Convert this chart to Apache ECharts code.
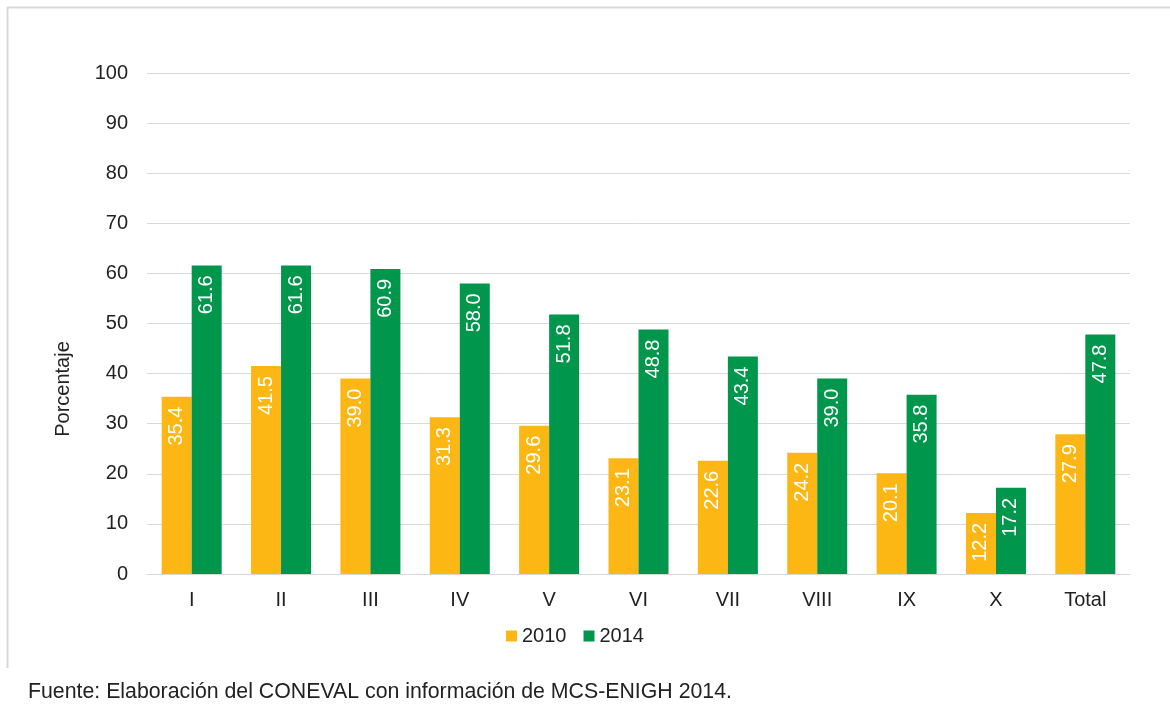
<!DOCTYPE html>
<html>
<head>
<meta charset="utf-8">
<script src="https://cdn.jsdelivr.net/npm/echarts@6/dist/echarts.min.js"></script>
<style>
html, body { margin: 0; padding: 0; background: #fff; }
#main { width: 1170px; height: 715px; }
</style>
</head>
<body>
<div id="main"></div>
<script>
var categories = ['I', 'II', 'III', 'IV', 'V', 'VI', 'VII', 'VIII', 'IX', 'X', 'Total'];
var values2010 = [35.4, 41.5, 39.0, 31.3, 29.6, 23.1, 22.6, 24.2, 20.1, 12.2, 27.9];
var values2014 = [61.6, 61.6, 60.9, 58.0, 51.8, 48.8, 43.4, 39.0, 35.8, 17.2, 47.8];

var font = '"Liberation Sans", Arial, sans-serif';

var chart = echarts.init(document.getElementById('main'));

var barLabel = {
    show: true,
    position: 'insideTop',
    rotate: 90,
    align: 'right',
    verticalAlign: 'middle',
    distance: 10,
    color: '#fff',
    fontSize: 20,
    fontFamily: font,
    formatter: function (p) { return p.value.toFixed(1); }
};

var option = {
    backgroundColor: '#fff',
    animation: false,
    textStyle: { fontFamily: font },
    grid: { left: 147, right: 40, top: 73, bottom: 141 },
    legend: {
        top: 626,
        left: 506,
        padding: 0,
        itemWidth: 11,
        itemHeight: 11,
        itemGap: 17,
        icon: 'rect',
        textStyle: { fontSize: 20, color: '#222', fontFamily: font },
        data: ['2010', '2014']
    },
    xAxis: {
        type: 'category',
        data: categories,
        axisLine: { lineStyle: { color: '#d9d9d9', width: 1 } },
        axisTick: { show: false },
        axisLabel: { color: '#222', fontSize: 20, margin: 16, fontFamily: font }
    },
    yAxis: {
        type: 'value',
        min: 0,
        max: 100,
        interval: 10,
        axisLine: { show: false },
        axisTick: { show: false },
        axisLabel: { color: '#222', fontSize: 20, margin: 19, fontFamily: font },
        splitLine: { lineStyle: { color: '#d9d9d9', width: 1 } }
    },
    graphic: [
        { type: 'line', shape: { x1: 7.5, y1: 7, x2: 7.5, y2: 668 }, style: { stroke: '#d9d9d9', lineWidth: 2 } },
        { type: 'line', shape: { x1: 7, y1: 7.5, x2: 1170, y2: 7.5 }, style: { stroke: '#d9d9d9', lineWidth: 2 } },
        {
            type: 'text', x: 63, y: 389, rotation: Math.PI / 2,
            style: { text: 'Porcentaje', fill: '#222', font: '20px ' + font, align: 'center', verticalAlign: 'middle' }
        },
        {
            type: 'text', x: 28, y: 692,
            style: { text: 'Fuente: Elaboración del CONEVAL con información de MCS-ENIGH 2014.', fill: '#222', font: '21.3px ' + font, verticalAlign: 'middle' }
        }
    ],
    series: [
        {
            name: '2010',
            type: 'bar',
            data: values2010,
            barWidth: 30,
            barGap: '0%',
            itemStyle: { color: '#FDB714' },
            label: barLabel
        },
        {
            name: '2014',
            type: 'bar',
            data: values2014,
            barWidth: 30,
            itemStyle: { color: '#00964B' },
            label: barLabel
        }
    ]
};
chart.setOption(option);
</script>
</body>
</html>
